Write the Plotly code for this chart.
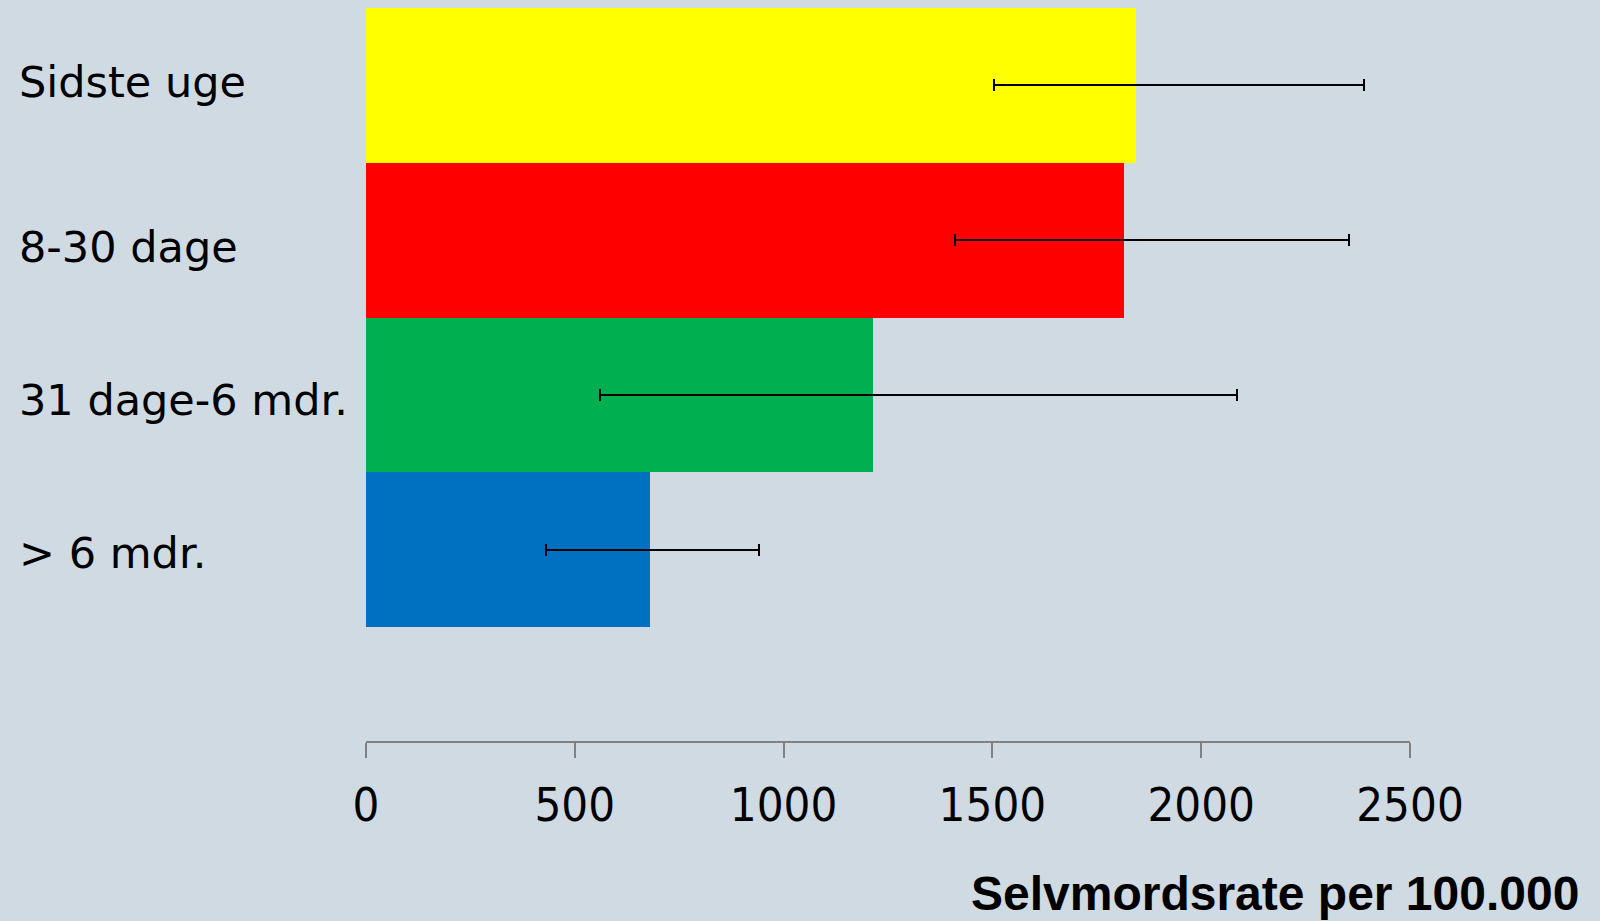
import plotly.graph_objects as go

categories = ["Sidste uge", "8-30 dage", "31 dage-6 mdr.", "> 6 mdr."]
rates = [1845, 1815, 1214, 680]
ci_low = [1505, 1411, 560, 431]
ci_high = [2390, 2354, 2085, 942]
colors = ["#FFFF00", "#FF0000", "#00B050", "#0070C0"]
x_ticks = [0, 500, 1000, 1500, 2000, 2500]
x_title = "Selvmordsrate per 100.000"

W, H = 1600, 921
L, R, T, B = 366, 1410, 8, 741
bg = "#CFDAE3"
label_shift = [3, -7, -5, -3]

err_plus = [h - v for h, v in zip(ci_high, rates)]
err_minus = [v - l for v, l in zip(rates, ci_low)]
ypos = list(range(len(categories)))

fig = go.Figure()
fig.add_trace(go.Bar(
    x=rates, y=ypos, orientation="h", width=1,
    marker=dict(color=colors, line=dict(width=0)),
    error_x=dict(type="data", array=err_plus, arrayminus=err_minus,
                 color="black", thickness=2, width=6),
    showlegend=False, hoverinfo="skip",
))

for i, c in enumerate(categories):
    fig.add_annotation(x=(17 - L) / (R - L), xref="paper", xanchor="left",
                       y=ypos[i], yref="y", yanchor="middle", yshift=label_shift[i],
                       text=c, showarrow=False,
                       font=dict(family="DejaVu Sans", size=43, color="black"))

fig.add_annotation(x=(1581 - L) / (R - L), xref="paper", xanchor="right",
                   y=(B - 893) / (B - T), yref="paper", yanchor="middle",
                   text="<b>" + x_title + "</b>", showarrow=False,
                   font=dict(family="Liberation Sans", size=48, color="black"))

fig.update_layout(
    width=W, height=H,
    margin=dict(l=L, r=W - R, t=T, b=H - B, pad=0),
    paper_bgcolor=bg, plot_bgcolor=bg,
    bargap=0,
    xaxis=dict(range=[0, 2500], tickvals=x_ticks, ticktext=[str(t) for t in x_ticks],
               showgrid=False, zeroline=False, showline=True, linecolor="#808080",
               linewidth=2, ticks="outside", ticklen=15, tickwidth=1.5, tickcolor="#808080",
               ticklabelstandoff=7,
               tickfont=dict(family="DejaVu Sans Condensed, sans-serif",
                             size=47, color="black"),
               fixedrange=True),
    yaxis=dict(range=[4.235, -0.5], showgrid=False, zeroline=False, showline=False,
               showticklabels=False, ticks="", fixedrange=True),
)

fig.write_html("out.html", config={"displayModeBar": False},
               post_script="document.body.style.margin='0';document.body.style.overflow='hidden';")
